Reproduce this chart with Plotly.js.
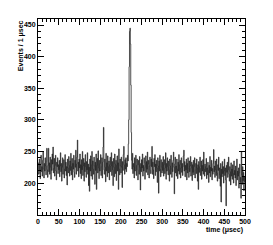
<!DOCTYPE html>
<html>
<head>
<meta charset="utf-8">
<script src="https://cdn.plot.ly/plotly-3.0.1.min.js"></script>
<style>html,body{margin:0;padding:0;background:#fff;}#chart{width:273px;height:245px;}</style>
</head>
<body>
<div id="chart"></div>
<script>
// Events per 1 μsec bin, bins 0..499
const counts = [
232,214,215,238,221,207,230,244,218,226,211,236,249,222,208,231,219,240,227,213,234,255,221,209,228,
255,218,232,214,241,225,206,237,220,246,230,257,216,223,239,211,228,244,219,205,233,226,240,215,229,
221,236,210,227,248,218,231,203,225,240,214,229,237,208,222,245,219,233,212,226,197,238,224,216,242,
228,211,235,220,247,213,226,239,205,231,222,244,217,209,236,225,252,214,230,241,268,219,233,210,238,
224,246,215,229,207,237,221,250,212,227,239,203,232,218,245,226,209,234,221,248,214,230,196,225,187,
238,219,243,211,229,250,206,235,222,214,241,227,198,233,220,246,190,228,239,216,251,224,207,236,219,
231,245,212,226,240,208,233,257,288,221,214,238,225,202,247,219,232,210,243,226,216,235,205,229,241,
218,227,248,212,234,221,196,239,225,210,246,230,215,236,204,228,243,219,232,190,254,222,213,238,227,
216,241,225,193,234,220,245,258,229,214,237,222,240,218,231,226,244,235,262,300,384,440,445,420,355,
280,236,222,247,215,231,226,208,240,219,233,244,212,228,238,221,205,236,229,214,242,225,189,231,218,
237,224,246,211,228,219,240,232,206,225,243,217,234,222,249,213,230,236,208,227,241,220,215,238,226,
258,214,233,221,207,239,226,245,212,230,218,236,224,201,240,227,184,235,219,244,222,210,237,225,216,
233,220,242,211,229,237,215,224,248,206,231,219,240,226,213,235,221,203,238,227,214,244,222,209,232,
218,236,249,225,183,230,241,216,227,211,238,222,207,233,219,245,214,229,236,208,224,240,217,231,212,
226,243,252,219,234,210,228,221,238,205,231,216,240,223,209,235,218,227,242,211,224,233,204,229,217,
236,213,226,240,208,221,231,215,238,224,203,229,190,234,217,226,241,212,223,235,206,228,219,237,214,
249,222,211,230,218,226,239,207,224,213,233,220,201,228,216,242,210,225,219,236,205,223,214,231,253,
218,227,209,235,221,212,238,216,203,229,220,241,207,224,213,195,231,170,222,210,234,215,226,200,219,
238,212,224,205,164,228,217,233,209,221,241,214,203,226,218,197,232,211,222,206,229,215,200,235,213,
220,208,227,196,214,238,205,219,211,224,192,216,230,201,209,176,250,213,198,226,204,217,188,210,202
];
const binWidth = 1;       // μsec
const xTicks = [0,50,100,150,200,250,300,350,400,450,500];
const yTicks = [200,250,300,350,400,450];
const xTitle = 'time (μsec)';
const yTitle = 'Events / 1 μsec';

// step outline: left bin edges plus closing edge
const xs = counts.map((_, i) => i * binWidth);
xs.push(counts.length * binWidth);
const ys = counts.slice();
ys.push(counts[counts.length - 1]);

const tickFont = {family: 'Liberation Sans, Arial, sans-serif', size: 7, color: '#000', weight: 'bold'};

const axisCommon = {
  showgrid: false, zeroline: false, showline: true, linecolor: '#000', linewidth: 1,
  mirror: 'ticks', ticks: 'inside', ticklen: 6, tickwidth: 1, tickcolor: '#000',
  tickfont: tickFont,
  minor: {ticks: 'inside', ticklen: 3, tickwidth: 1, tickcolor: '#000', dtick: 10, showgrid: false}
};

const trace = {
  x: xs, y: ys, type: 'scatter', mode: 'lines',
  line: {shape: 'hv', color: '#222', width: 0.8},
  hoverinfo: 'skip', showlegend: false
};

const layout = {
  width: 273, height: 245,
  margin: {l: 38, r: 28, t: 19, b: 30},
  paper_bgcolor: '#fff', plot_bgcolor: '#fff',
  showlegend: false,
  xaxis: Object.assign({}, axisCommon, {range: [0, 500], tickvals: xTicks, ticktext: xTicks.map(String)}),
  yaxis: Object.assign({}, axisCommon, {range: [149.5, 459.5], tickvals: yTicks, ticktext: yTicks.map(String)}),
  annotations: [
    {text: xTitle, xref: 'paper', yref: 'paper', x: 1, y: -0.078, xanchor: 'right', yanchor: 'middle',
     showarrow: false, font: tickFont},
    {text: yTitle, xref: 'paper', yref: 'paper', x: -0.084, y: 1.005, xanchor: 'center', yanchor: 'top',
     textangle: -90, showarrow: false, font: tickFont}
  ]
};

Plotly.newPlot('chart', [trace], layout, {staticPlot: true, displayModeBar: false});
</script>
</body>
</html>
